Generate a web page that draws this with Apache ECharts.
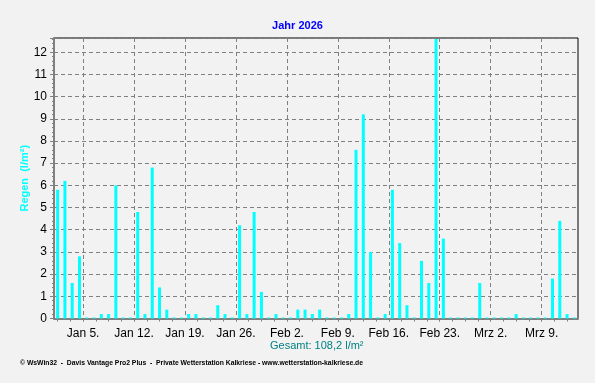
<!DOCTYPE html>
<html>
<head>
<meta charset="utf-8">
<script src="https://cdn.jsdelivr.net/npm/echarts@6/dist/echarts.min.js"></script>
<style>
html,body{margin:0;padding:0;background:#f2f2f2;}
#wrap{position:relative;width:595px;height:383px;box-sizing:border-box;border-right:2px solid #a0a0a0;border-bottom:2px solid #a0a0a0;}
#chart{position:absolute;left:0;top:0;width:595px;height:383px;}
</style>
</head>
<body>
<div id="wrap"><div id="chart"></div></div>
<script>
// Daily rain (l/m²), Jan 1 .. Mar 13, 2026
const janValues = [5.8,6.2,1.6,2.8,0,0,0.2,0.2,6.0,0,0,4.8,0.2,6.8,1.4,0.4,0,0,0.2,0.2,0,0,0.6,0.2,0,4.2,0.2,4.8,1.2,0,0.2];
const febValues = [0,0,0.4,0.4,0.2,0.4,0,0,0,0.2,7.6,9.2,3.0,0,0.2,5.8,3.4,0.6,0,2.6,1.6,12.6,3.6,0,0,0,0,1.6];
const marValues = [0,0,0,0,0.2,0,0,0,0,1.8,4.4,0.2,0];
const weekLabels = ['Jan 5.','Jan 12.','Jan 19.','Jan 26.','Feb 2.','Feb 9.','Feb 16.','Feb 23.','Mrz 2.','Mrz 9.'];
const firstMonday = 4; // day offset of Jan 5 from Jan 1
const titleText = 'Jahr 2026';
const yName = 'Regen  (l/m²)';
const totalText = 'Gesamt: 108,2 l/m²';
const footerText = '© WsWin32  -  Davis Vantage Pro2 Plus  -  Private Wetterstation Kalkriese - www.wetterstation-kalkriese.de';

const values = janValues.concat(febValues, marValues);
const nDays = values.length;
const barData = values.map((v, i) => [i + 0.5, v]);
const weekTicks = weekLabels.map((_, k) => firstMonday + 7 * k);
const labelMap = {};
weekTicks.forEach((t, k) => labelMap[t] = weekLabels[k]);
const minorTicks = [];
for (let t = firstMonday - 1.75 * 2; t <= nDays + 0.001; t += 1.75) minorTicks.push(+t.toFixed(3));

const chart = echarts.init(document.getElementById('chart'), null, {renderer: 'canvas'});
const gridStyle = {color: '#808080', width: 1, type: [4, 3]};
chart.setOption({
  backgroundColor: '#f2f2f2',
  animation: false,
  title: [
    {text: titleText, left: 'center', top: 15, textStyle: {color: '#0000ff', fontSize: 11, fontWeight: 'bold', fontFamily: 'Liberation Sans, Arial, sans-serif'}},
    {text: totalText, left: 270, top: 340, padding: 0, textStyle: {color: '#008080', fontSize: 11, fontWeight: 'normal', fontFamily: 'Liberation Sans, Arial, sans-serif'}},
    {text: footerText, left: 20, top: 360, padding: 0, textStyle: {color: '#000000', fontSize: 6.8, fontWeight: 'bold', fontFamily: 'Liberation Sans, Arial, sans-serif'}}
  ],
  grid: {left: 54, top: 38, right: 17, bottom: 64.5, show: true, borderColor: '#000000', borderWidth: 1, backgroundColor: 'transparent'},
  xAxis: [
    {
      type: 'value', min: 0, max: nDays, position: 'bottom',
      axisLine: {show: true, onZero: false, lineStyle: {color: '#808080', width: 2}},
      axisTick: {show: true, length: 3, customValues: weekTicks, lineStyle: {color: '#808080'}},
      axisLabel: {show: true, customValues: weekTicks, margin: 9, color: '#000', fontSize: 12, fontFamily: 'Liberation Sans, Arial, sans-serif', formatter: v => labelMap[v] || ''},
      splitLine: {show: true, lineStyle: gridStyle}
    },
    {
      type: 'value', min: 0, max: nDays, position: 'bottom',
      axisLine: {show: false},
      axisTick: {show: true, length: 3, customValues: minorTicks, lineStyle: {color: '#808080'}},
      axisLabel: {show: false},
      splitLine: {show: false}
    }
  ],
  yAxis: {
    type: 'value', min: 0, max: 12.64, interval: 1,
    name: yName, nameLocation: 'middle', nameGap: 24, nameMoveOverlap: false,
    nameTextStyle: {color: '#00ffff', fontSize: 11, fontWeight: 'bold', fontFamily: 'Liberation Sans, Arial, sans-serif'},
    axisLine: {show: true, lineStyle: {color: '#808080', width: 2}},
    axisTick: {show: true, length: 4, lineStyle: {color: '#808080'}},
    minorTick: {show: true, splitNumber: 5, length: 2, lineStyle: {color: '#808080'}},
    axisLabel: {color: '#000', fontSize: 12, margin: 7, fontFamily: 'Liberation Sans, Arial, sans-serif', formatter: v => Number.isInteger(v) ? String(v) : ''},
    splitLine: {show: true, lineStyle: gridStyle}
  },
  series: [{
    type: 'bar', xAxisIndex: 0, data: barData, barWidth: 3, barMinHeight: 1,
    itemStyle: {color: '#00ffff'}
  }]
});
</script>
</body>
</html>
